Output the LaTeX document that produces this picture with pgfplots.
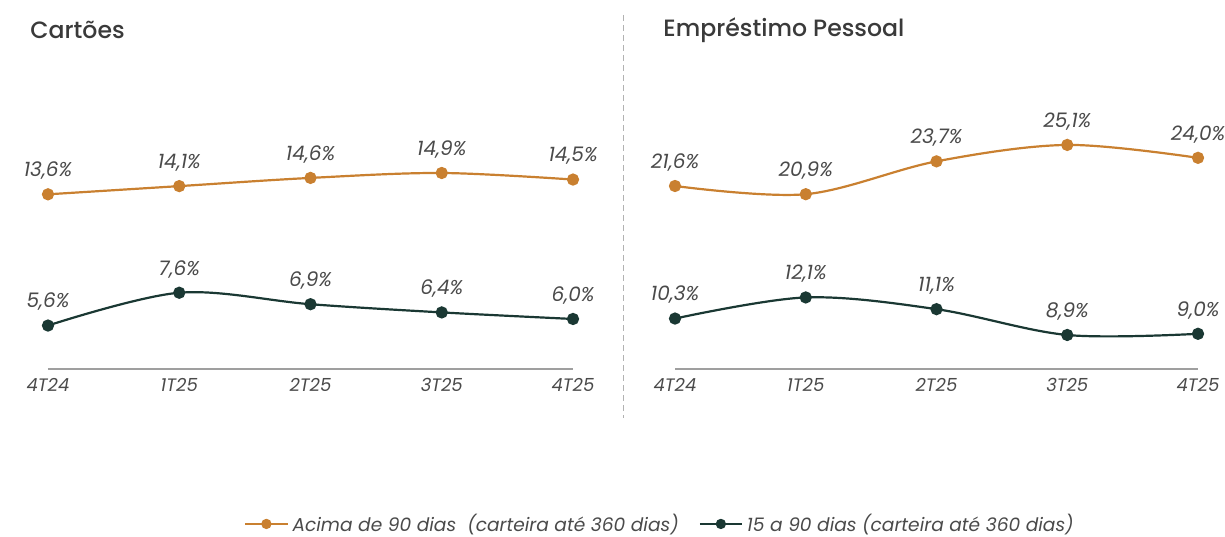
\documentclass[border=0pt]{standalone}
\usepackage{fontspec}
\setmainfont{Poppins}
\newfontfamily\titfont{Poppins Medium}
\usepackage{pgfplots}
\pgfplotsset{compat=1.18}

\definecolor{laranja}{HTML}{C98030}
\definecolor{verde}{HTML}{1A3833}
\definecolor{texto}{HTML}{4A4A4A}
\definecolor{titulo}{HTML}{3A3A3A}

\pgfplotsset{
  painel/.style={
    scale only axis,
    anchor=south west,
    xmin=0, xmax=4,
    axis x line=bottom,
    axis y line=none,
    x axis line style={-, draw=gray!75, line width=0.6pt},
    xtick={0,1,2,3,4},
    xticklabels={4T24,1T25,2T25,3T25,4T25},
    major tick length=0pt,
    xticklabel style={font=\itshape\fontsize{9}{10}\selectfont, text=texto, yshift=-1pt},
    clip=false,
    every axis plot/.append style={
      smooth, tension=0.55, line width=1.1pt, mark=*, mark size=2.5pt,
      nodes near coords, point meta=explicit symbolic,
      every node near coord/.style={anchor=south, yshift=3.5pt,
        font=\itshape\fontsize{10}{11}\selectfont, text=texto}},
  },
  legend image code/.code={%
    \draw[mark repeat=2,mark phase=2,mark size=2pt,#1]
      plot coordinates {(0pt,0pt) (10.5pt,0pt) (21pt,0pt)};},
}

\begin{document}
\begin{tikzpicture}
\useasboundingbox (0,0) rectangle (612.5pt,268pt);

% Cartões
\begin{axis}[painel,
  at={(24pt,83.5pt)}, width=262.5pt, height=134.5pt,
  ymin=2.95, ymax=19.35,
  legend style={at={(1.1676,-0.576)}, anchor=center, draw=none, fill=none,
    font=\itshape\fontsize{9.3}{10}\selectfont, text=texto,
    /tikz/every even column/.append style={column sep=8pt}},
  legend columns=2,
]
\addplot[laranja] coordinates {
  (0,13.6) [{13,6\%}]
  (1,14.1) [{14,1\%}]
  (2,14.6) [{14,6\%}]
  (3,14.9) [{14,9\%}]
  (4,14.5) [{14,5\%}]
};
\addlegendentry{Acima de 90 dias\ \ (carteira até 360 dias)}
\addplot[verde] coordinates {
  (0,5.6) [{5,6\%}]
  (1,7.6) [{7,6\%}]
  (2,6.9) [{6,9\%}]
  (3,6.4) [{6,4\%}]
  (4,6.0) [{6,0\%}]
};
\addlegendentry{15 a 90 dias (carteira até 360 dias)}
\end{axis}

% Empréstimo Pessoal
\begin{axis}[painel,
  at={(337.5pt,83.5pt)}, width=261.5pt, height=134.5pt,
  ymin=6.0, ymax=28.93,
]
\addplot[laranja] coordinates {
  (0,21.6) [{21,6\%}]
  (1,20.9) [{20,9\%}]
  (2,23.7) [{23,7\%}]
  (3,25.1) [{25,1\%}]
  (4,24.0) [{24,0\%}]
};
\addplot[verde] coordinates {
  (0,10.3) [{10,3\%}]
  (1,12.1) [{12,1\%}]
  (2,11.1) [{11,1\%}]
  (3,8.9) [{8,9\%}]
  (4,9.0) [{9,0\%}]
};
\end{axis}

\node[anchor=west, inner sep=0pt, text=titulo, font=\titfont\fontsize{11.8}{14}\selectfont] at (15pt,253pt) {Cartões};
\node[anchor=west, inner sep=0pt, text=titulo, font=\titfont\fontsize{11.8}{14}\selectfont] at (331.5pt,253pt) {Empréstimo Pessoal};
\draw[densely dashed, gray!60, line width=0.5pt] (311.5pt,260.5pt) -- (311.5pt,59pt);
\end{tikzpicture}
\end{document}
